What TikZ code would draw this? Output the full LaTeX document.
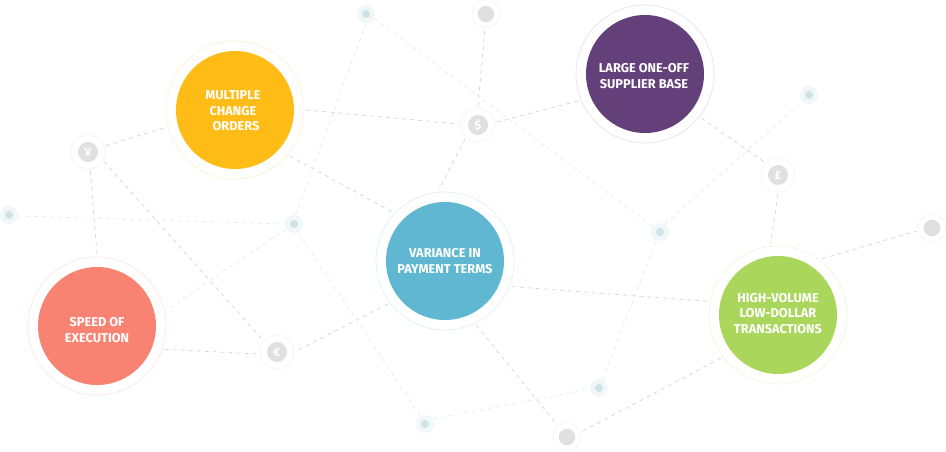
\documentclass[tikz,border=0pt]{standalone}
\usepackage{fontspec}
\setmainfont{Fira Sans}
\definecolor{cyellow}{HTML}{FFBB16}
\definecolor{cpurple}{HTML}{63407A}
\definecolor{cblue}{HTML}{5FB7D2}
\definecolor{cpink}{HTML}{F98373}
\definecolor{cgreen}{HTML}{A9D65B}
\definecolor{edgegray}{HTML}{D6D6D6}
\definecolor{edgeblue}{HTML}{E0EDF0}
\definecolor{discgray}{HTML}{E0E0E0}
\definecolor{dotblue}{HTML}{CFE2E8}
\definecolor{dotring}{HTML}{F1F6F8}
\tikzset{
  x=1pt,y=-1pt,
  ringbig/.style={circle,draw=#1,fill=white,line width=.7pt,minimum size=138pt,inner sep=0pt,outer sep=2.5pt},
  discbig/.style={circle,fill=#1,minimum size=118pt,inner sep=0pt},
  bigtext/.style={align=center,text=white,font=\fontsize{12.8}{15.6}\selectfont\bfseries,inner sep=0pt},
  ringmid/.style={circle,draw=black!3,fill=white,line width=1pt,minimum size=34pt,inner sep=0pt,outer sep=2pt},
  discmid/.style={circle,fill=discgray,minimum size=20pt,inner sep=0pt,text=white,font=\fontsize{12}{12}\selectfont\bfseries},
  ringplain/.style={circle,draw=black!3,fill=white,line width=1pt,minimum size=28pt,inner sep=0pt,outer sep=1.5pt},
  discplain/.style={circle,fill=discgray,minimum size=16.5pt,inner sep=0pt},
  ringdot/.style={circle,fill=dotring,minimum size=18pt,inner sep=0pt,outer sep=.5pt},
  discdot/.style={circle,fill=dotblue,minimum size=8pt,inner sep=0pt},
  graylink/.style={draw=edgegray,line width=.75pt,dash pattern=on 4pt off 4pt},
  bluelink/.style={draw=edgeblue,line width=.75pt,dash pattern=on 4pt off 4pt},
}
\begin{document}
\begin{tikzpicture}
\useasboundingbox (0,0) rectangle (946,452);
% big nodes
\node[ringbig=cyellow!20] (yellow) at (235,110) {};
\node[discbig=cyellow] (yellowd) at (235,110) {};
\node[bigtext] (yellowt) at (233,111) {MULTIPLE\\CHANGE\\\ \ ORDERS};
\node[ringbig=cpurple!15] (purple) at (645,74) {};
\node[discbig=cpurple] (purpled) at (645,74) {};
\node[bigtext] (purplet) at (644,76) {LARGE ONE-OFF\\SUPPLIER BASE};
\node[ringbig=cblue!20] (blue) at (445,261) {};
\node[discbig=cblue] (blued) at (445,261) {};
\node[bigtext] (bluet) at (445,261) {VARIANCE IN\\PAYMENT TERMS};
\node[ringbig=cpink!20] (pink) at (97,326) {};
\node[discbig=cpink] (pinkd) at (97,326) {};
\node[bigtext] (pinkt) at (97,330) {SPEED OF\\EXECUTION};
\node[ringbig=cgreen!20] (green) at (778,315) {};
\node[discbig=cgreen] (greend) at (778,315) {};
\node[bigtext] (greent) at (778,313.5) {HIGH-VOLUME\\LOW-DOLLAR\\TRANSACTIONS};
% currency nodes
\node[ringmid] (yen) at (88,152) {};
\node[discmid] (yend) at (88,152) {¥};
\node[ringmid] (dollar) at (478,125) {};
\node[discmid] (dollard) at (478,125) {\$};
\node[ringmid] (pound) at (778,175) {};
\node[discmid] (poundd) at (778,175) {£};
\node[ringmid] (euro) at (277,352) {};
\node[discmid] (eurod) at (277,352) {€};
% plain gray nodes
\node[ringplain] (gtop) at (486,14) {};
\node[discplain] (gtopd) at (486,14) {};
\node[ringplain] (gright) at (932,228) {};
\node[discplain] (grightd) at (932,228) {};
\node[ringplain] (gbot) at (567,437) {};
\node[discplain] (gbotd) at (567,437) {};
% dots
\foreach \n/\px/\py in {a/366/14,b/9/215,c/294/224,d/660/232,e/809/95,f/599/388,g/425/424}{
  \node[ringdot] (\n) at (\px,\py) {};
  \node[discdot] (\n d) at (\px,\py) {};
}
% links: node/angle pairs
\foreach \p/\pa/\q/\qa in {
  yen/19.4/yellow/194.4, yen/277/pink/90.5, yen/329/euro/140.5,
  yellow/0.8/dollar/177, yellow/320.7/blue/137.2, dollar/227.7/blue/95.9,
  dollar/90/gtop/266, dollar/9/purple/202, purple/322.5/pound/137.3,
  pound/270/green/96.5, green/52/gright/191.3, blue/339/green/169.5,
  blue/217.7/euro/3, pink/341.6/euro/186.7, blue/296.2/gbot/129.8,
  green/217.5/gbot/20}{
  \draw[graylink] (\p.\pa) -- (\q.\qa);
}
\foreach \p/\pa/\q/\qa in {
  b/354/c/180, c/80/a/270, c/212.5/pink/13, c/296.6/g/120,
  g/32/f/186, f/66/d/246, d/58/e/225, a/331/d/142}{
  \draw[bluelink] (\p.\pa) -- (\q.\qa);
}
\end{tikzpicture}
\end{document}
